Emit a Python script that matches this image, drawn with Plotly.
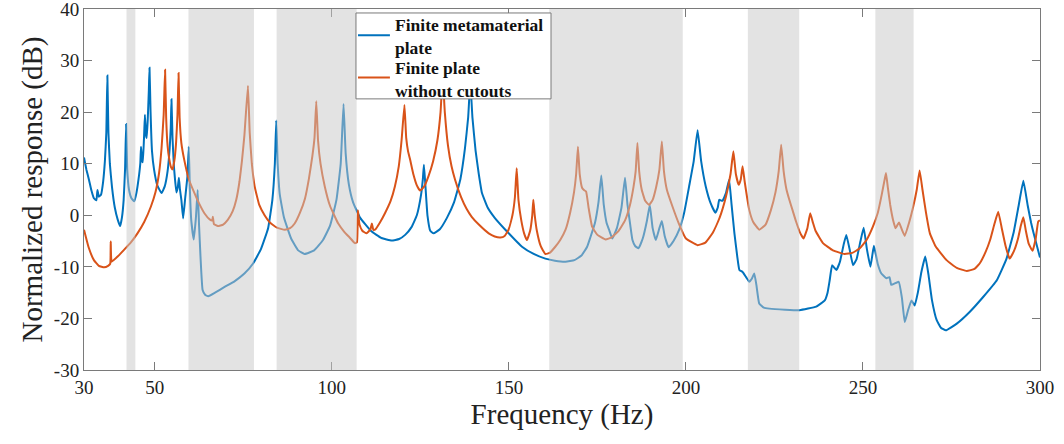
import plotly.graph_objects as go

# ---- data ----
blue_f = [30, 30.7, 31.4, 32.1, 32.8, 33.5, 33.8, 34.2, 34.8, 35.4, 35.9, 36.3, 36.6, 36.9, 37.3, 37.9,
          38.7, 39.5, 40.2, 40.7, 41.2, 41.6, 41.9, 42.2, 42.7, 43.4, 44.2, 44.8, 45.4, 45.9, 46.1, 46.4,
          46.6, 47.0, 47.2, 47.5, 47.7, 48.0, 48.3, 48.5, 48.8, 49.2, 49.8, 50.7, 51.9, 52.8, 53.6, 54.2,
          54.5, 54.7, 55.0, 55.4, 56.1, 56.5, 56.8, 57.1, 57.5, 58, 58.6, 59.2, 59.6, 59.9, 60.3, 61,
          61.6, 62.1, 62.5, 62.9, 63.5, 64.2, 65.1, 67, 69.7, 72.5, 75.3, 77.8, 80, 82, 83.2, 83.9,
          84.3, 84.7, 85.3, 86.5, 88.5, 90.5, 92.3, 95, 97.5, 99.5, 101.3, 102.5, 103.3, 103.9, 104.8,
          106, 108, 111, 114, 116.9, 119, 120.7, 122.5, 124, 125.2, 125.7, 126, 126.4, 127, 127.8,
          128.7, 130.5, 132.5, 134.5, 136.3, 137.6, 138.5, 139.1, 139.7, 140.6, 141.5, 142.4, 144, 146,
          149, 153.7, 157, 160.3, 163, 166, 168.5, 170.5, 172.1, 173, 174.3, 175.3, 176.1, 176.8, 177.6,
          178.3, 179.2, 180.5, 181.8, 182.8, 183.5, 184.3, 184.9, 185.7, 186.6, 187.8, 189, 189.8, 190.6,
          191.5, 192.5, 193.2, 194, 195.1, 196.5, 198.1, 199.5, 200.9, 202.2, 203.3, 204.3, 205.6, 207,
          208.3, 209, 209.4, 210.3, 211.3, 212.2, 212.9, 213.7, 214.5, 215.1, 216, 217, 217.9, 218.6,
          219.3, 219.9, 220.7, 222, 223.6, 228, 232.1, 236.8, 239.2, 240, 240.6, 241.3, 242.5, 243.5,
          244.6, 245.3, 246.2, 247.2, 248.2, 249.3, 250.2, 251.1, 252.1, 252.7, 253.1, 254.2, 255.2,
          256.6, 257.5, 258, 260.1, 261.0, 261.8, 262.7, 263.7, 264.6, 265.5, 266.5, 267.6, 268.5,
          269.5, 270.8, 272, 273.4, 276.5, 280.2, 284, 287.8, 290.5, 292.5, 294, 295.3, 296.5, 297.5,
          298.2, 300]
blue_db = [11.2, 8.8, 6.9, 4.8, 3.3, 2.9, 4.9, 3.6, 4.0, 6.5, 10.5, 16, 27.1, 16, 10, 5.5,
           1.5, -0.8, -2.1, -0.5, 3, 9, 17.7, 9, 5, 3.3, 2.7, 4.3, 7, 10.1, 13.3, 10.5,
           10.3, 15.9, 19.5, 15.5, 15, 18.5, 24, 28.6, 20, 12.5, 8.8, 5.8, 4.3, 5.6, 8.5, 13,
           17, 22.5, 15, 9.5, 4.4, 5.5, 7.3, 5, 3, -0.6, 3.5, 7.5, 13.3, 5, -1, -4.7,
           -0.5, 4.9, -2, -8, -14.5, -15.4, -15.7, -15, -13.9, -12.8, -11.3, -9.3, -6.5, -2.5, 3, 10,
           18.4, 10, 4, -0.5, -4.5, -6.8, -7.5, -6.8, -4.8, -2, 3, 10, 21.6, 12, 6,
           2.5, -0.5, -3, -4.4, -4.9, -4.6, -3.8, -2.3, 0, 4, 7, 9.8, 6, 0, -3,
           -3.5, -2.7, -0.5, 2.5, 7, 13, 19, 26, 19, 12.5, 8, 4.3, 1.5, -0.5,
           -2.8, -6.1, -7.5, -8.4, -8.8, -9, -8.7, -7.8, -6.1, -4.3, -1.5, 2.5, 7.7, 2, -1.5,
           -2.8, -4.5, -2.5, 1.5, 7.3, 2, -2, -4.8, -6, -6.4, -4.5, -1, 2.0, -2.5,
           -4.8, -2.5, -1.1, -4, -6.2, -5, -2.8, 0.5, 5.6, 10.5, 16.5, 10.5, 5.6, 2.3,
           0.5, 1.5, 3, 2.8, 4.3, 6.9, 2, -3.5, -8, -10.6, -11, -12, -12.9, -12.3,
           -11.3, -13.5, -17.1, -17.9, -18.1, -18.3, -18.4, -17.7, -16.5, -15, -12.6, -9.7, -10.6, -9,
           -5.5, -3.8, -6.5, -9.7, -8.5, -5, -2.4, -6.5, -10, -7.5, -5.9, -9.5, -11.3,
           -12.2, -12, -13.5, -12.9, -16, -20.7, -18.5, -16.5, -17.5, -15, -11, -8, -11.5,
           -16.5, -20.3, -21.8, -22.3, -21, -18.7, -15.8, -12.6, -8.5, -3.5, 2, 6.7, 2, -1.5,
           -3.5, -8.2]

orange_f = [30, 31.3, 32.8, 34.2, 35.7, 36.8, 37.4, 37.55, 37.8, 39.5, 41.3, 43.3, 45.1, 47, 48.9,
            50.2, 51.2, 51.9, 52.5, 52.9, 53.2, 53.6, 54.1, 54.6, 55.0, 55.5, 56.0, 56.4, 56.7, 57.0,
            57.5, 58.3, 59.6, 61.2, 62.5, 64, 65.5, 66.2, 66.4, 66.7, 67.8, 69.3, 70.6, 72, 73, 73.9,
            74.6, 75.3, 76.3, 76.8, 77.4, 78.2, 79.5, 81, 82.5, 84.5, 86.7, 88.2, 89.5, 91, 92.4, 93.5,
            94.5, 95.1, 95.6, 96.1, 96.8, 98, 99.5, 101.8, 103.5, 105, 106.5, 107.1, 107.35, 107.8,
            108.6, 109.8, 110.9, 111.3, 111.7, 112.2, 113.5, 115, 116.6, 117.8, 118.9, 119.7, 120.5,
            121, 121.5, 122.1, 123, 124, 124.9, 126, 127.3, 128.6, 129.8, 130.7, 131.3, 131.9, 132.8,
            133.8, 134.8, 136.5, 138, 139.5, 141.5, 144.3, 146, 147.6, 148.8, 149.9, 151, 151.7, 152.2,
            152.7, 153.5, 154.3, 155.1, 156, 156.6, 156.9, 157.3, 157.9, 159, 160.3, 161.5, 163.1,
            164.5, 166, 167.3, 168.4, 169, 169.5, 170, 170.7, 171.2, 171.8, 172.5, 173.5, 175, 177.3,
            179, 181, 182.8, 184.2, 185.2, 185.8, 186.3, 186.8, 187.5, 188.5, 189.6, 190.6, 191.6,
            192.5, 193.2, 193.8, 194.6, 196.2, 198, 200, 203.3, 205.5, 207.5, 209.5, 211.3, 212.6,
            213.4, 214.1, 214.9, 215.5, 216, 216.6, 217.9, 219, 220.7, 222.5, 224, 225.3, 226.2, 226.9,
            227.6, 228.4, 229.2, 230.2, 231.1, 232.2, 233.2, 234.3, 235.1, 235.9, 236.6, 238.7, 241.5,
            244.8, 247, 249.1, 251, 252.8, 254.2, 255.3, 256.0, 256.5, 257.0, 257.7, 258.5, 259.2,
            259.8, 260.2, 261, 261.8, 263, 264.2, 265.2, 266, 266.8, 267.8, 268.9, 270.5, 273.6, 276.5,
            279.3, 281.5, 283, 284.7, 285.9, 287.2, 288.2, 289.2, 290.3, 291.4, 292.6, 293.8, 294.6,
            295.3, 296, 296.8, 297.9, 298.8, 299.5, 300]
orange_db = [-2.8, -6.2, -8.7, -9.8, -10.1, -9.8, -9.4, -5.1, -9.0, -8.0, -6.7, -5.2, -3.5, -1.3, 1.7,
             4.5, 8.2, 13, 19.5, 28.2, 19, 13.5, 10.8, 9.3, 8.9, 10.5, 14, 19.5, 27.6, 19,
             14, 10.8, 7, 4.3, 2.3, 0.4, -0.8, -1.0, -0.3, -1.7, -2.1, -1.8, -0.9, 0.8, 3, 6.5,
             10.5, 15.5, 25.1, 16, 10, 5.6, 2, 0, -1.4, -2.4, -2.8, -2.5, -1.6, 0.5, 3.2, 7,
             11.5, 15, 22.1, 14.5, 10, 5.6, 1.8, -1.6, -3.2, -4.3, -5.4, -5.2, 1, -1.8,
             -3, -3.5, -2.7, -1.6, -2.8, -2.8, -1.5, 0.4, 2.8, 5.6, 9.5, 14.6, 21.4,
             15, 12.5, 10.8, 8, 5.8, 4.8, 5.5, 7.6, 10.5, 14.5, 20, 27, 20, 13.5,
             9.5, 6.9, 3.5, 1.3, -0.3, -1.8, -3.5, -4.1, -4.3, -4, -2.8, 0, 3.5, 9.1,
             3, -1, -3.5, -4.8, -3, 0, 3, 0, -3, -6, -7.5, -7.3, -6.1,
             -4.8, -2.8, 0.5, 4.5, 8, 13.3, 8, 5.3, 4.9, 4.6, 1.5, -2.2, -3.8, -4.7,
             -4.3, -3, -1, 2, 5.5, 8.5, 14, 8.5, 5, 2.8, 2.0, 3, 5.5,
             8.8, 14.3, 8.5, 5, 1.7, -1.6, -4.5, -5.8, -5.3, -3.5, -0.5, 3.6, 8,
             12.4, 8, 5.9, 7, 9.5, 6.5, 1, -1.3, -2.8, -1.8, 1, 4.5, 8.5, 13.7,
             8.5, 5, 3, 0.8, -1.2, -3.3, -4.5, -2.5, 0.4, -1.5, -3, -5.4, -6.8,
             -7.5, -7.3, -6.4, -4.8, -2.2, 0.5, 4, 6.5, 8.2, 5.5, 2, -0.9, -2.5,
             -1.8, -1.4, -2.8, -4, -1.5, 1.7, 5, 8.7, 5, 0.5, -3.5, -6, -8.7, -10.2,
             -10.8, -10.4, -9.3, -7, -4.8, -1.5, 0.7, -2.5, -6, -8.4, -7, -4.5, -2,
             -0.4, -3, -5.5, -6.9, -4.5, -1.2, -1.0]

band_lo = [42.0, 59.5, 84.4, 161.4, 217.5, 253.5]
band_hi = [44.5, 78.0, 107.0, 199.1, 232.0, 264.3]

x_ticks = [30, 50, 100, 150, 200, 250, 300]
y_ticks = [-30, -20, -10, 0, 10, 20, 30, 40]
y_ticktext = ["-30", "-20", "-10", "0", "10", "20", "30", "40"]

names = ["Finite metamaterial<br>plate", "Finite plate<br>without cutouts"]
colors = ["#0072BD", "#D95319"]

fig = go.Figure()
fig.add_trace(go.Scatter(x=blue_f, y=blue_db, mode="lines", name=names[0],
                         line=dict(color=colors[0], width=2, shape="spline", smoothing=0.35)))
fig.add_trace(go.Scatter(x=orange_f, y=orange_db, mode="lines", name=names[1],
                         line=dict(color=colors[1], width=2, shape="spline", smoothing=0.35)))

for lo, hi in zip(band_lo, band_hi):
    fig.add_shape(type="rect", xref="x", yref="y", x0=lo, x1=hi, y0=-30, y1=40,
                  fillcolor="rgba(200,200,200,0.5)", line=dict(width=0), layer="above")

serif = "Liberation Serif"

# legend panel (MATLAB-style framed legend)
fig.add_shape(type="rect", xref="paper", yref="paper", x0=0.2845, x1=0.4885, y0=0.751, y1=0.989,
              fillcolor="white", line=dict(color="#7a7a7a", width=1), layer="above")
leg_y = [0.927, 0.810]
text_y = [0.9227, 0.805]
for name, col, ly, ty in zip(names, colors, leg_y, text_y):
    fig.add_shape(type="line", xref="paper", yref="paper", x0=0.2866, x1=0.3200, y0=ly, y1=ly,
                  line=dict(color=col, width=2), layer="above")
    fig.add_annotation(xref="paper", yref="paper", x=0.3235, y=ty, xanchor="left", yanchor="middle",
                       text="<b>" + name + "</b>", showarrow=False, align="left",
                       font=dict(family=serif, size=17.5, color="#111"))

axis_common = dict(showgrid=False, zeroline=False, showline=True, mirror="ticks",
                   linecolor="#7a7a7a", linewidth=1, ticks="inside", ticklen=8,
                   tickcolor="#7a7a7a", automargin=False, ticklabeloverflow="allow",
                   tickfont=dict(family=serif, size=19, color="#222"))

fig.update_layout(
    width=1064, height=444,
    margin=dict(l=84, r=24, t=9, b=74),
    paper_bgcolor="white", plot_bgcolor="white",
    xaxis=dict(range=[30, 300], tickvals=x_ticks,
               title=dict(text="Frequency (Hz)", font=dict(family=serif, size=29, color="#222"),
                          standoff=4),
               **axis_common),
    yaxis=dict(range=[-30, 40], tickvals=y_ticks, ticktext=y_ticktext,
               title=dict(text="Normalized response (dB)", font=dict(family=serif, size=29, color="#222"),
                          standoff=2),
               **axis_common),
    showlegend=False,
)

fig.write_html("out.html", config={"displayModeBar": False},
               post_script="document.body.style.margin='0';")
